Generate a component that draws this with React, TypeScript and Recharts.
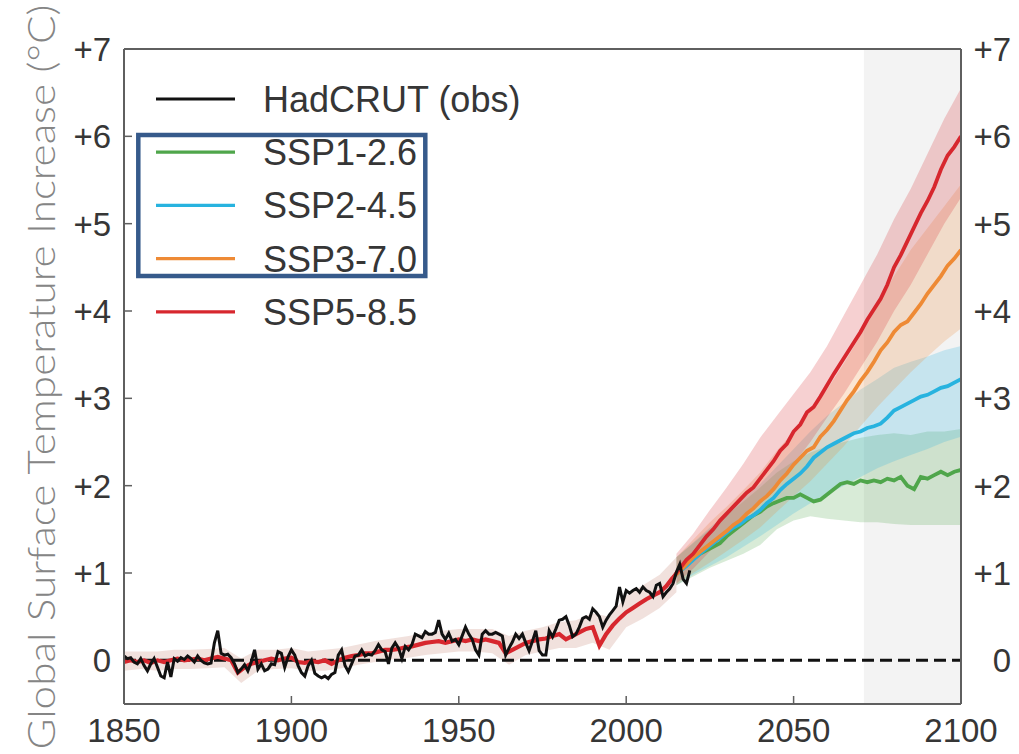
import {
  ComposedChart,
  Line,
  Area,
  XAxis,
  YAxis,
  ReferenceLine,
  ReferenceArea,
} from "recharts";

// HadCRUT observations, one value per year from 1850
const obsStart = 1850;
const obsValues = [
  0.05, 0.02, 0.03, -0.02, -0.04, 0.02, -0.06, -0.12, -0.04, 0.02,
  -0.08, -0.18, -0.2, -0.02, -0.19, 0.02, -0.01, 0.03, 0.01, 0.05,
  0.02, -0.02, 0.05, 0.0, -0.03, -0.04, -0.03, 0.2, 0.34, 0.08,
  0.06, 0.07, 0.03, -0.04, -0.14, -0.1, -0.05, -0.12, -0.02, 0.12,
  -0.1, -0.04, -0.12, -0.1, -0.04, -0.05, 0.1, 0.08, -0.08, 0.04,
  0.12, 0.06, -0.06, -0.14, -0.18, -0.06, 0.0, -0.15, -0.18, -0.2,
  -0.18, -0.21, -0.16, -0.14, 0.06, 0.12, -0.06, -0.13, -0.04, 0.05,
  0.06, 0.12, 0.05, 0.07, 0.06, 0.11, 0.18, 0.12, 0.1, -0.04,
  0.14, 0.2, 0.14, 0.02, 0.16, 0.12, 0.18, 0.3, 0.28, 0.26,
  0.33, 0.3, 0.3, 0.32, 0.46, 0.3, 0.24, 0.31, 0.22, 0.24,
  0.18, 0.28, 0.38, 0.3, 0.24, 0.12, 0.06, 0.3, 0.34, 0.3,
  0.3, 0.32, 0.3, 0.28, 0.06, 0.14, 0.21, 0.3, 0.25, 0.3,
  0.2, 0.11, 0.22, 0.34, 0.11, 0.06, 0.06, 0.34, 0.27, 0.36,
  0.46, 0.47, 0.5, 0.4, 0.27, 0.3, 0.38, 0.48, 0.5, 0.47,
  0.59, 0.55, 0.5, 0.38, 0.46, 0.52, 0.57, 0.62, 0.84, 0.67,
  0.8, 0.77, 0.8, 0.82, 0.78, 0.84, 0.8, 0.78, 0.73, 0.86,
  0.88, 0.73, 0.78, 0.82, 0.88, 1.01, 1.1, 0.93, 0.88, 1.03,
];

// model historical mean, every 2 years 1850-2014
const histStart = 1850;
const histMean = [
  -0.02, 0.0, -0.02, 0.0, -0.03, 0.0, -0.02, 0.0, 0.02, 0.0,
  0.01, 0.02, 0.0, 0.02, 0.04, 0.02, 0.0, -0.14, -0.08, -0.04,
  -0.02, 0.0, 0.02, 0.0, 0.02, 0.03, -0.02, -0.03, -0.01, -0.02,
  0.0, -0.04, 0.0, 0.03, 0.05, 0.06, 0.08, 0.08, 0.1, 0.12,
  0.12, 0.13, 0.15, 0.16, 0.18, 0.2, 0.21, 0.22, 0.2, 0.22,
  0.24, 0.22, 0.24, 0.22, 0.24, 0.22, 0.2, 0.08, 0.12, 0.16,
  0.2, 0.22, 0.24, 0.25, 0.28, 0.3, 0.24, 0.28, 0.32, 0.36,
  0.38, 0.17, 0.3, 0.4, 0.48, 0.55, 0.6, 0.65, 0.7, 0.74,
  0.78, 0.85, 0.95,
];

// scenario means, every 2 years 2014-2100
const futureStart = 2014;
const ssp126 = [
  0.95, 1.02, 1.1, 1.16, 1.22, 1.26, 1.3, 1.34, 1.42, 1.48,
  1.54, 1.6, 1.66, 1.7, 1.76, 1.8, 1.83, 1.86, 1.86, 1.9,
  1.86, 1.82, 1.84, 1.9, 1.96, 2.02, 2.04, 2.02, 2.06, 2.04,
  2.06, 2.04, 2.08, 2.06, 2.1, 2.0, 1.96, 2.1, 2.08, 2.12,
  2.16, 2.12, 2.16, 2.18,
];
const ssp245 = [
  0.95, 1.02, 1.08, 1.15, 1.22, 1.28, 1.34, 1.4, 1.46, 1.52,
  1.56, 1.62, 1.66, 1.72, 1.8, 1.86, 1.95, 2.02, 2.08, 2.14,
  2.22, 2.32, 2.38, 2.44, 2.48, 2.52, 2.56, 2.6, 2.62, 2.66,
  2.68, 2.71, 2.78, 2.86, 2.9, 2.94, 2.98, 3.02, 3.04, 3.08,
  3.12, 3.14, 3.18, 3.22,
];
const ssp370 = [
  0.95, 1.02, 1.1, 1.18, 1.24, 1.3, 1.36, 1.42, 1.48, 1.55,
  1.6, 1.68, 1.74, 1.82, 1.88, 1.96, 2.06, 2.14, 2.24, 2.32,
  2.4, 2.44, 2.56, 2.64, 2.74, 2.86, 2.98, 3.08, 3.2, 3.3,
  3.42, 3.55, 3.64, 3.76, 3.84, 3.88, 3.98, 4.08, 4.2, 4.3,
  4.4, 4.52, 4.6, 4.7,
];
const ssp585 = [
  0.95, 1.05, 1.15, 1.22, 1.32, 1.42, 1.5, 1.6, 1.68, 1.76,
  1.84, 1.92, 1.98, 2.08, 2.18, 2.28, 2.4, 2.48, 2.62, 2.7,
  2.84, 2.9, 3.02, 3.15, 3.28, 3.4, 3.52, 3.64, 3.76, 3.9,
  4.02, 4.14, 4.3, 4.5, 4.64, 4.8, 4.96, 5.12, 5.26, 5.42,
  5.62, 5.78, 5.88, 6.0,
];

// model spread, every 5 years
const histBandStart = 1850;
const histLow = [
  -0.12, -0.1, -0.12, -0.1, -0.1, -0.09, -0.08, -0.26, -0.12, -0.1,
  -0.09, -0.12, -0.12, -0.09, -0.05, -0.02, 0.01, 0.03, 0.06, 0.08,
  0.1, 0.1, 0.08, -0.05, 0.06, 0.1, 0.14, 0.14, 0.2, 0.12,
  0.38, 0.48, 0.6, 0.78,
];
const histHigh = [
  0.1, 0.1, 0.1, 0.12, 0.12, 0.13, 0.14, 0.02, 0.12, 0.12,
  0.14, 0.1, 0.12, 0.14, 0.18, 0.22, 0.25, 0.28, 0.32, 0.34,
  0.36, 0.36, 0.36, 0.28, 0.34, 0.38, 0.44, 0.46, 0.54, 0.5,
  0.74, 0.86, 0.98, 1.18,
];
const bandStart = 2015;
const ssp126Low = [0.86, 0.96, 1.06, 1.14, 1.22, 1.32, 1.5, 1.6, 1.65, 1.62, 1.6, 1.58, 1.58, 1.56, 1.55, 1.55, 1.55, 1.55];
const ssp126High = [1.18, 1.34, 1.5, 1.66, 1.82, 1.98, 2.15, 2.28, 2.38, 2.45, 2.5, 2.55, 2.58, 2.6, 2.58, 2.62, 2.62, 2.65];
const ssp245Low = [0.86, 0.98, 1.08, 1.18, 1.3, 1.42, 1.55, 1.68, 1.8, 1.9, 2.0, 2.1, 2.2, 2.28, 2.35, 2.42, 2.5, 2.56];
const ssp245High = [1.18, 1.35, 1.52, 1.68, 1.85, 2.02, 2.22, 2.42, 2.62, 2.8, 2.95, 3.1, 3.22, 3.35, 3.42, 3.48, 3.55, 3.6];
const ssp370Low = [0.86, 1.0, 1.12, 1.25, 1.38, 1.52, 1.7, 1.88, 2.05, 2.25, 2.45, 2.68, 2.9, 3.1, 3.3, 3.48, 3.65, 3.8];
const ssp370High = [1.18, 1.38, 1.58, 1.76, 1.95, 2.15, 2.4, 2.62, 2.85, 3.1, 3.4, 3.72, 4.05, 4.4, 4.7, 4.95, 5.2, 5.45];
const ssp585Low = [0.88, 1.05, 1.25, 1.42, 1.6, 1.8, 2.0, 2.25, 2.5, 2.78, 3.05, 3.35, 3.65, 4.0, 4.3, 4.65, 5.0, 5.3];
const ssp585High = [1.22, 1.45, 1.72, 1.98, 2.25, 2.55, 2.8, 3.05, 3.3, 3.6, 3.95, 4.3, 4.65, 5.05, 5.4, 5.8, 6.2, 6.55];

const yearTicks = [1850, 1900, 1950, 2000, 2050, 2100];
const tempTicks = [0, 1, 2, 3, 4, 5, 6, 7];
const projectionFrom = 2071;

const scenarios = [
  { name: "SSP1-2.6", color: "#4fa64b", mean: ssp126, low: ssp126Low, high: ssp126High },
  { name: "SSP2-4.5", color: "#27b3df", mean: ssp245, low: ssp245Low, high: ssp245High },
  { name: "SSP3-7.0", color: "#ee8a35", mean: ssp370, low: ssp370Low, high: ssp370High },
  { name: "SSP5-8.5", color: "#d7272e", mean: ssp585, low: ssp585Low, high: ssp585High },
];

const obsData = obsValues.map((v, i) => ({ year: obsStart + i, value: v }));
const histData = histMean.map((v, i) => ({ year: histStart + i * 2, value: v }));
const histBand = histLow.map((v, i) => ({ year: histBandStart + i * 5, range: [v, histHigh[i]] }));
const seriesData = scenarios.map((s) => ({
  ...s,
  line: s.mean.map((v, i) => ({ year: futureStart + i * 2, value: v })),
  band: s.low.map((v, i) => ({ year: bandStart + i * 5, range: [v, s.high[i]] })),
}));

const FONT = '"Liberation Sans", Arial, Helvetica, sans-serif';
const TEXT = "#363636";
const FRAME = "#5f5f5f";

const fmt = (v: number) => (v === 0 ? "0" : `+${v}`);

function LeftTick(props: any) {
  const { x, y, payload } = props;
  const v = payload.value;
  return (
    <g>
      {v !== 0 && v !== 7 && (
        <line x1={x + 13} x2={x + 21} y1={y} y2={y} stroke={FRAME} strokeWidth={1.5} />
      )}
      <text x={x} y={y} dy="0.36em" textAnchor="end" fontSize={33} fill={TEXT} fontFamily={FONT}>
        {fmt(v)}
      </text>
    </g>
  );
}

function RightTick(props: any) {
  const { x, y, payload } = props;
  return (
    <text x={x} y={y} dy="0.36em" textAnchor="end" fontSize={33} fill={TEXT} fontFamily={FONT}>
      {fmt(payload.value)}
    </text>
  );
}

function BottomTick(props: any) {
  const { x, y, payload } = props;
  const v = payload.value;
  return (
    <g>
      {v !== 1850 && v !== 2100 && (
        <line x1={x} x2={x} y1={y - 14} y2={y - 22} stroke={FRAME} strokeWidth={1.5} />
      )}
      <text x={x} y={y} dy="0.72em" textAnchor="middle" fontSize={33} fill={TEXT} fontFamily={FONT}>
        {v}
      </text>
    </g>
  );
}

const legendRows = [{ name: "HadCRUT (obs)", color: "#111111" }, ...scenarios];

export default function App() {
  return (
    <div style={{ position: "absolute", left: 0, top: 0, width: 1019, height: 754, background: "#fff" }}>
      <ComposedChart width={1019} height={754} margin={{ top: 49, right: 0, bottom: 0, left: 0 }}>
        <XAxis
          dataKey="year"
          type="number"
          domain={[1850, 2100]}
          ticks={yearTicks}
          height={50}
          tickSize={0}
          tickMargin={14}
          tick={<BottomTick />}
          axisLine={{ stroke: FRAME, strokeWidth: 2 }}
          allowDataOverflow
        />
        <YAxis
          yAxisId="left"
          type="number"
          domain={[-0.5, 7]}
          ticks={tempTicks}
          width={124}
          tickSize={0}
          tickMargin={13}
          tick={<LeftTick />}
          axisLine={{ stroke: FRAME, strokeWidth: 2 }}
          allowDataOverflow
        />
        <YAxis
          yAxisId="right"
          orientation="right"
          type="number"
          domain={[-0.5, 7]}
          ticks={tempTicks}
          width={58}
          tickSize={0}
          tickMargin={50}
          tick={<RightTick />}
          axisLine={{ stroke: FRAME, strokeWidth: 2 }}
          allowDataOverflow
        />
        <ReferenceArea
          yAxisId="left"
          x1={projectionFrom}
          x2={2100}
          y1={-0.5}
          y2={7}
          fill="#f3f3f3"
          fillOpacity={1}
          stroke="none"
        />
        <Area
          yAxisId="left"
          data={histBand}
          dataKey="range"
          type="linear"
          stroke="none"
          fill="#d2a396"
          fillOpacity={0.32}
          isAnimationActive={false}
          activeDot={false}
        />
        {seriesData.map((s) => (
          <Area
            key={s.name + "-band"}
            yAxisId="left"
            data={s.band}
            dataKey="range"
            type="linear"
            stroke="none"
            fill={s.color}
            fillOpacity={0.22}
            isAnimationActive={false}
            activeDot={false}
          />
        ))}
        <ReferenceLine yAxisId="left" y={0} stroke="#111" strokeWidth={3} strokeDasharray="12 6" />
        <ReferenceLine yAxisId="left" y={7} stroke={FRAME} strokeWidth={2} />
        {seriesData.map((s) => (
          <Line
            key={s.name}
            yAxisId="left"
            data={s.line}
            dataKey="value"
            type="linear"
            stroke={s.color}
            strokeWidth={3.8}
            dot={false}
            activeDot={false}
            isAnimationActive={false}
          />
        ))}
        <Line
          yAxisId="left"
          data={histData}
          dataKey="value"
          type="linear"
          stroke="#d7272e"
          strokeWidth={4.2}
          dot={false}
          activeDot={false}
          isAnimationActive={false}
        />
        <Line
          yAxisId="left"
          data={obsData}
          dataKey="value"
          type="linear"
          stroke="#111111"
          strokeWidth={3}
          dot={false}
          activeDot={false}
          isAnimationActive={false}
        />
      </ComposedChart>

      <svg
        width={1019}
        height={754}
        style={{ position: "absolute", left: 0, top: 0, pointerEvents: "none" }}
      >
        <text
          transform="translate(55,377) rotate(-90)"
          textAnchor="middle"
          fontSize={38}
          fontWeight={300}
          fontFamily='Lato, "Open Sans", sans-serif'
          fill="#858585"
          textLength={745}
          lengthAdjust="spacingAndGlyphs"
        >
          Global Surface Temperature Increase (°C)
        </text>
        {legendRows.map((r, i) => {
          const cy = 99 + i * 53.2;
          return (
            <g key={r.name}>
              <line x1={156} x2={235} y1={cy} y2={cy} stroke={r.color} strokeWidth={3.2} />
              <text x={263} y={cy + 13} fontSize={36} fill={TEXT} fontFamily={FONT}>
                {r.name}
              </text>
            </g>
          );
        })}
        <rect x={138.3} y={135} width={287} height={141} fill="none" stroke="#365a8b" strokeWidth={4.5} />
      </svg>
    </div>
  );
}
